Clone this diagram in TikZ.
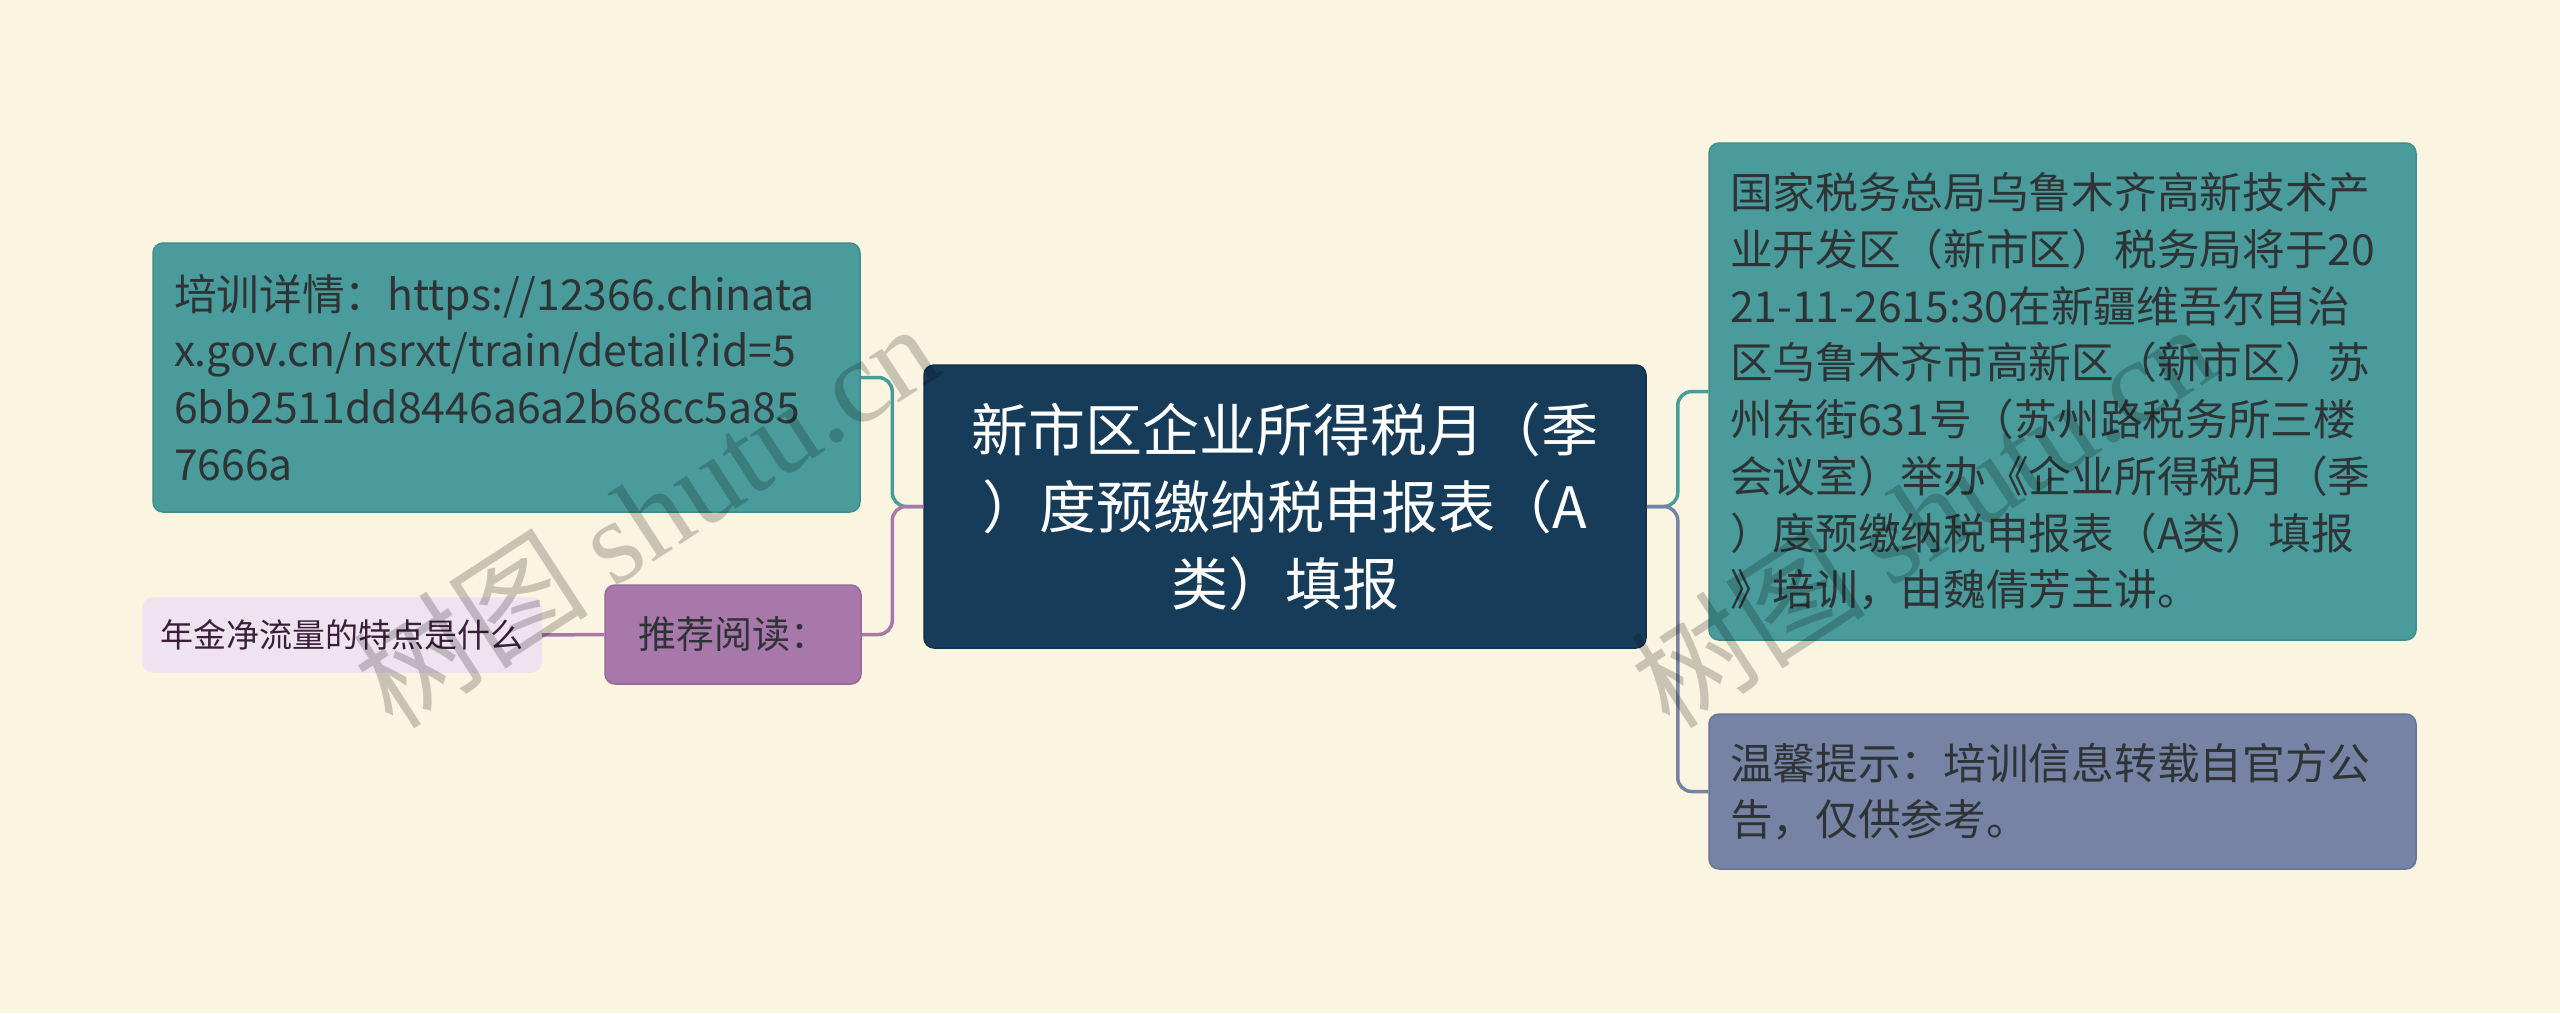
\documentclass[tikz,border=0pt]{standalone}
\usepackage{fontspec}
\setmainfont{Noto Sans CJK SC}
\newfontfamily\wmserif{Liberation Serif}
\hyphenpenalty=10000
\exhyphenpenalty=10000
\definecolor{bgc}{HTML}{FAF5E0}
\definecolor{navy}{HTML}{173C5A}
\definecolor{navyb}{HTML}{10304A}
\definecolor{tealc}{HTML}{4A9B9B}
\definecolor{tealb}{HTML}{3F8D8D}
\definecolor{slatec}{HTML}{7683A4}
\definecolor{slateb}{HTML}{66739A}
\definecolor{purpc}{HTML}{A878AA}
\definecolor{purpb}{HTML}{98689A}
\definecolor{lavc}{HTML}{EEE3EF}
\definecolor{txtd}{HTML}{2E3436}
\definecolor{txtp}{HTML}{3A1F3A}
\tikzset{
  basebox/.style={rectangle, rounded corners=10pt, line width=1.5pt, inner ysep=0pt},
  centerbox/.style={basebox, fill=navy, draw=navyb, text=white, align=center,
    font=\fontsize{57}{77}\selectfont},
  tealbox/.style={basebox, fill=tealc, draw=tealb, text=txtd, align=left,
    text width=665pt, inner xsep=21pt,
    font=\fontsize{42.7}{56.7}\selectfont},
  slatebox/.style={tealbox, fill=slatec, draw=slateb},
  purpbox/.style={basebox, fill=purpc, draw=purpb, text=txtd, align=center,
    font=\fontsize{38}{46}\selectfont},
  lavbox/.style={basebox, fill=lavc, draw=lavc, text=txtp, align=center,
    font=\fontsize{33}{40}\selectfont},
  conn/.style={line width=3.5pt, rounded corners=14pt},
  wm/.style={text=black, opacity=0.2, font=\fontsize{118}{128}\selectfont}
}
\begin{document}
\begin{tikzpicture}[x=1pt,y=-1pt]
\fill[bgc] (0,0) rectangle (2560,1013);
\useasboundingbox (0,0) rectangle (2560,1013);

\node[centerbox, minimum width=722pt, minimum height=283pt] (c) at (1285,506.5)
  {新市区企业所得税月（季\\）度预缴纳税申报表（A\\类）填报};

\node[tealbox, minimum height=269pt] (lt) at (506.5,377.5)
  {培训详情：https://12366.chinata\\x.gov.cn/nsrxt/train/detail?id=5\\6bb2511dd8446a6a2b68cc5a85\\7666a};

\node[purpbox, minimum width=256pt, minimum height=99pt] (p) at (733,634.5) {推荐阅读：};
\node[lavbox, minimum width=398pt, minimum height=74pt] (l) at (342,635) {年金净流量的特点是什么};

\node[tealbox, minimum height=497pt] (rt) at (2062.5,391.5)
  {国家税务总局乌鲁木齐高新技术产\\业开发区（新市区）税务局将于20\\21-11-2615:30在新疆维吾尔自治\\区乌鲁木齐市高新区（新市区）苏\\州东街631号（苏州路税务所三楼\\会议室）举办《企业所得税月（季\\）度预缴纳税申报表（A类）填报\\》培训，由魏倩芳主讲。};

\node[slatebox, minimum height=155pt] (rb) at (2062.5,791.5)
  {温馨提示：培训信息转载自官方公\\告，仅供参考。};

\coordinate (lj) at ([xshift=-31pt]c.west);
\coordinate (rj) at ([xshift=31pt]c.east);
\draw[conn, draw=tealc] (c.west) -- (lj) |- (lt.east);
\draw[conn, draw=purpc] (c.west) -- (lj) |- (p.east);
\draw[conn, draw=purpc] (p.west) -- (l.east);
\draw[conn, draw=tealc] (c.east) -- (rj) |- (rt.west);
\draw[conn, draw=slatec] (c.east) -- (rj) |- (rb.west);

\node[wm, rotate=33] (wm1) at (645,514) {树图 {\wmserif shutu.cn}};
\node[wm, rotate=33] (wm2) at (1922,514) {树图 {\wmserif shutu.cn}};
\end{tikzpicture}
\end{document}
